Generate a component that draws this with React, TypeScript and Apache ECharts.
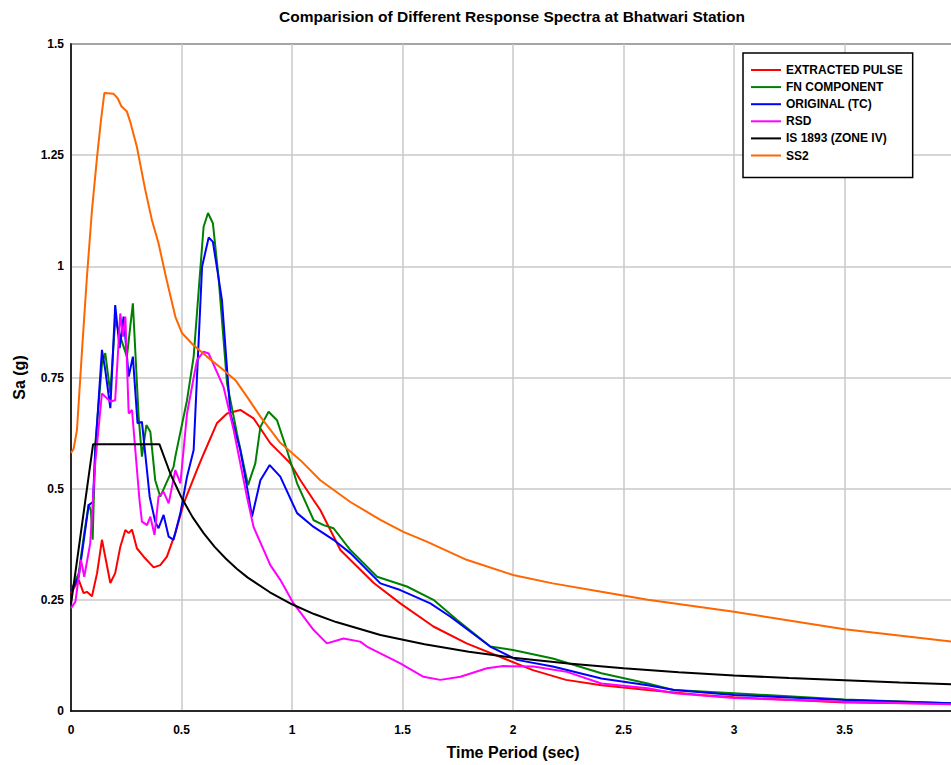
import React, { useEffect, useRef } from "react";
import * as echarts from "echarts";

const title = "Comparision of Different Response Spectra at Bhatwari Station";
const xTitle = "Time Period (sec)";
const yTitle = "Sa (g)";
const seriesNames = ["EXTRACTED PULSE", "FN COMPONENT", "ORIGINAL (TC)", "RSD", "IS 1893 (ZONE IV)", "SS2"];
const seriesColors = ["#ff0000", "#008000", "#0000ff", "#ff00ff", "#000000", "#ff6600"];

const extractedT = [0, 0.035, 0.057, 0.072, 0.095, 0.118, 0.14, 0.155, 0.178, 0.2, 0.223, 0.246, 0.261, 0.276, 0.298, 0.329, 0.374, 0.404, 0.434, 0.472, 0.51, 0.57, 0.6, 0.66, 0.706, 0.766, 0.826, 0.902, 0.947, 0.992, 1.038, 1.098, 1.128, 1.219, 1.37, 1.49, 1.64, 1.79, 1.94, 2.09, 2.24, 2.4, 2.61, 2.85, 3.0, 3.5, 4.0];
const extractedSa = [0.265, 0.295, 0.265, 0.268, 0.258, 0.31, 0.385, 0.347, 0.288, 0.31, 0.369, 0.407, 0.4, 0.408, 0.366, 0.347, 0.323, 0.328, 0.347, 0.4, 0.467, 0.542, 0.578, 0.647, 0.669, 0.677, 0.658, 0.602, 0.58, 0.557, 0.519, 0.474, 0.452, 0.362, 0.288, 0.242, 0.19, 0.152, 0.122, 0.092, 0.07, 0.058, 0.047, 0.036, 0.031, 0.019, 0.016];

const fnT = [0, 0.035, 0.06, 0.08, 0.09, 0.098, 0.11, 0.14, 0.155, 0.178, 0.2, 0.223, 0.253, 0.28, 0.306, 0.321, 0.341, 0.359, 0.381, 0.404, 0.464, 0.472, 0.525, 0.555, 0.578, 0.6, 0.62, 0.642, 0.668, 0.706, 0.751, 0.801, 0.834, 0.857, 0.894, 0.932, 0.977, 1.023, 1.098, 1.143, 1.188, 1.264, 1.385, 1.52, 1.64, 1.746, 1.897, 2.0, 2.18, 2.4, 2.61, 2.73, 3.0, 3.5, 4.0];
const fnSa = [0.27, 0.31, 0.4, 0.465, 0.45, 0.385, 0.6, 0.78, 0.805, 0.715, 0.88, 0.842, 0.797, 0.917, 0.662, 0.572, 0.643, 0.628, 0.519, 0.482, 0.549, 0.572, 0.699, 0.797, 0.947, 1.089, 1.12, 1.097, 0.973, 0.737, 0.624, 0.508, 0.557, 0.639, 0.673, 0.654, 0.587, 0.512, 0.429, 0.418, 0.411, 0.362, 0.302, 0.28, 0.25, 0.205, 0.145, 0.137, 0.118, 0.085, 0.062, 0.047, 0.04, 0.026, 0.017];

const origT = [0, 0.035, 0.08, 0.099, 0.11, 0.14, 0.155, 0.178, 0.2, 0.22, 0.238, 0.261, 0.28, 0.301, 0.321, 0.356, 0.381, 0.396, 0.419, 0.442, 0.464, 0.495, 0.525, 0.555, 0.593, 0.623, 0.642, 0.668, 0.683, 0.721, 0.766, 0.804, 0.819, 0.857, 0.899, 0.947, 1.023, 1.098, 1.188, 1.264, 1.4, 1.49, 1.626, 1.717, 1.897, 2.018, 2.18, 2.4, 2.61, 2.73, 3.0, 3.5, 4.0];
const origSa = [0.27, 0.302, 0.463, 0.47, 0.587, 0.812, 0.767, 0.681, 0.913, 0.816, 0.887, 0.752, 0.797, 0.647, 0.65, 0.482, 0.426, 0.411, 0.441, 0.392, 0.385, 0.445, 0.527, 0.587, 0.999, 1.065, 1.055, 0.973, 0.924, 0.669, 0.587, 0.482, 0.437, 0.519, 0.553, 0.527, 0.445, 0.414, 0.385, 0.355, 0.287, 0.272, 0.242, 0.212, 0.145, 0.115, 0.1, 0.073, 0.058, 0.047, 0.036, 0.025, 0.017];

const rsdT = [0, 0.02, 0.045, 0.06, 0.087, 0.11, 0.14, 0.178, 0.2, 0.223, 0.235, 0.246, 0.261, 0.276, 0.291, 0.31, 0.321, 0.344, 0.359, 0.378, 0.396, 0.419, 0.442, 0.472, 0.495, 0.525, 0.57, 0.6, 0.623, 0.69, 0.736, 0.796, 0.826, 0.902, 0.947, 1.007, 1.098, 1.158, 1.233, 1.309, 1.339, 1.49, 1.595, 1.671, 1.762, 1.882, 1.957, 2.093, 2.244, 2.4, 2.61, 2.73, 3.0, 3.5, 4.0];
const rsdSa = [0.231, 0.246, 0.34, 0.302, 0.377, 0.56, 0.714, 0.696, 0.699, 0.894, 0.842, 0.887, 0.669, 0.677, 0.587, 0.474, 0.426, 0.418, 0.437, 0.396, 0.482, 0.493, 0.467, 0.542, 0.512, 0.669, 0.789, 0.808, 0.804, 0.729, 0.632, 0.482, 0.414, 0.328, 0.295, 0.242, 0.182, 0.152, 0.163, 0.156, 0.145, 0.107, 0.077, 0.07, 0.077, 0.096, 0.101, 0.1, 0.088, 0.062, 0.051, 0.04, 0.029, 0.021, 0.015];

const isT = [0, 0.1, 0.4, 0.45, 0.5, 0.55, 0.6, 0.65, 0.7, 0.75, 0.8, 0.9, 1.0, 1.1, 1.2, 1.4, 1.6, 1.8, 2.0, 2.25, 2.5, 2.75, 3.0, 3.25, 3.5, 3.75, 4.0];
const isSa = [0.24, 0.6, 0.6, 0.533, 0.48, 0.436, 0.4, 0.369, 0.343, 0.32, 0.3, 0.267, 0.24, 0.218, 0.2, 0.171, 0.15, 0.133, 0.12, 0.107, 0.096, 0.087, 0.08, 0.074, 0.069, 0.064, 0.06];

const ss2T = [0, 0.012, 0.027, 0.05, 0.072, 0.095, 0.118, 0.136, 0.151, 0.193, 0.211, 0.228, 0.253, 0.268, 0.298, 0.336, 0.366, 0.396, 0.431, 0.472, 0.502, 0.553, 0.615, 0.69, 0.744, 0.796, 0.857, 0.947, 1.04, 1.128, 1.264, 1.4, 1.504, 1.61, 1.79, 2.0, 2.18, 2.4, 2.61, 3.0, 3.5, 4.0];
const ss2Sa = [0.58, 0.59, 0.632, 0.812, 0.976, 1.127, 1.246, 1.33, 1.39, 1.388, 1.378, 1.36, 1.348, 1.325, 1.269, 1.172, 1.104, 1.052, 0.973, 0.887, 0.85, 0.823, 0.797, 0.767, 0.744, 0.707, 0.662, 0.603, 0.563, 0.519, 0.47, 0.43, 0.403, 0.381, 0.34, 0.306, 0.287, 0.268, 0.25, 0.223, 0.184, 0.155];

const allT = [extractedT, fnT, origT, rsdT, isT, ss2T];
const allSa = [extractedSa, fnSa, origSa, rsdSa, isSa, ss2Sa];

const FONT = '"Liberation Sans", Arial, sans-serif';

export default function App() {
  const ref = useRef<HTMLDivElement>(null);
  useEffect(() => {
    const chart = echarts.init(ref.current!, null, { renderer: "svg" });
    const series = seriesNames.map((name, i) => ({
      name,
      type: "line",
      data: allT[i].map((t, k) => [t, allSa[i][k]]),
      symbol: "none",
      showSymbol: false,
      smooth: false,
      lineStyle: { color: seriesColors[i], width: 2 },
      itemStyle: { color: seriesColors[i] },
      z: 2,
    }));
    chart.setOption({
      animation: false,
      backgroundColor: "#ffffff",
      textStyle: { fontFamily: FONT },
      title: {
        text: title,
        left: 507,
        textAlign: "center",
        top: 3,
        textStyle: { fontFamily: FONT, fontSize: 15.5, fontWeight: "bold", color: "#000" },
      },
      legend: {
        orient: "vertical",
        left: 743,
        top: 53,
        width: 160,
        padding: [11, 10, 16, 7],
        itemGap: 5.1,
        itemWidth: 30,
        itemHeight: 14,
        backgroundColor: "#ffffff",
        borderColor: "#000",
        borderWidth: 1.5,
        borderRadius: 0,
        itemStyle: { opacity: 0 },
        data: seriesNames,
        textStyle: { fontFamily: FONT, fontSize: 12, fontWeight: "bold", color: "#000" },
      },
      grid: {
        left: 71,
        top: 44,
        right: 5,
        bottom: 54,
        show: true,
        borderColor: "#000",
        borderWidth: 1.5,
        backgroundColor: "transparent",
      },
      xAxis: {
        type: "value",
        min: 0,
        max: 4,
        interval: 0.5,
        name: xTitle,
        nameLocation: "middle",
        nameGap: 33,
        nameTextStyle: { fontFamily: FONT, fontSize: 16, fontWeight: "bold", color: "#000" },
        axisLine: { show: true, lineStyle: { color: "#000", width: 1.5 } },
        axisTick: { show: false },
        axisLabel: { fontFamily: FONT, fontSize: 12, fontWeight: "bold", color: "#000", margin: 13, showMaxLabel: false },
        splitLine: { show: true, lineStyle: { color: "#c8c8c8", width: 1.5 } },
      },
      yAxis: {
        type: "value",
        min: 0,
        max: 1.5,
        interval: 0.25,
        name: yTitle,
        nameLocation: "middle",
        nameGap: 44,
        nameTextStyle: { fontFamily: FONT, fontSize: 16, fontWeight: "bold", color: "#000" },
        axisLine: { show: true, lineStyle: { color: "#000", width: 1.5 } },
        axisTick: { show: false },
        axisLabel: { fontFamily: FONT, fontSize: 12, fontWeight: "bold", color: "#000", margin: 7 },
        splitLine: { show: true, lineStyle: { color: "#c8c8c8", width: 1.5 } },
      },
      series,
    });
    return () => chart.dispose();
  }, []);
  return (
    <div style={{ position: "fixed", left: 0, top: 0, width: 951, height: 765, overflow: "hidden", background: "#fff" }}>
      <div ref={ref} style={{ width: 960, height: 765 }} />
    </div>
  );
}
